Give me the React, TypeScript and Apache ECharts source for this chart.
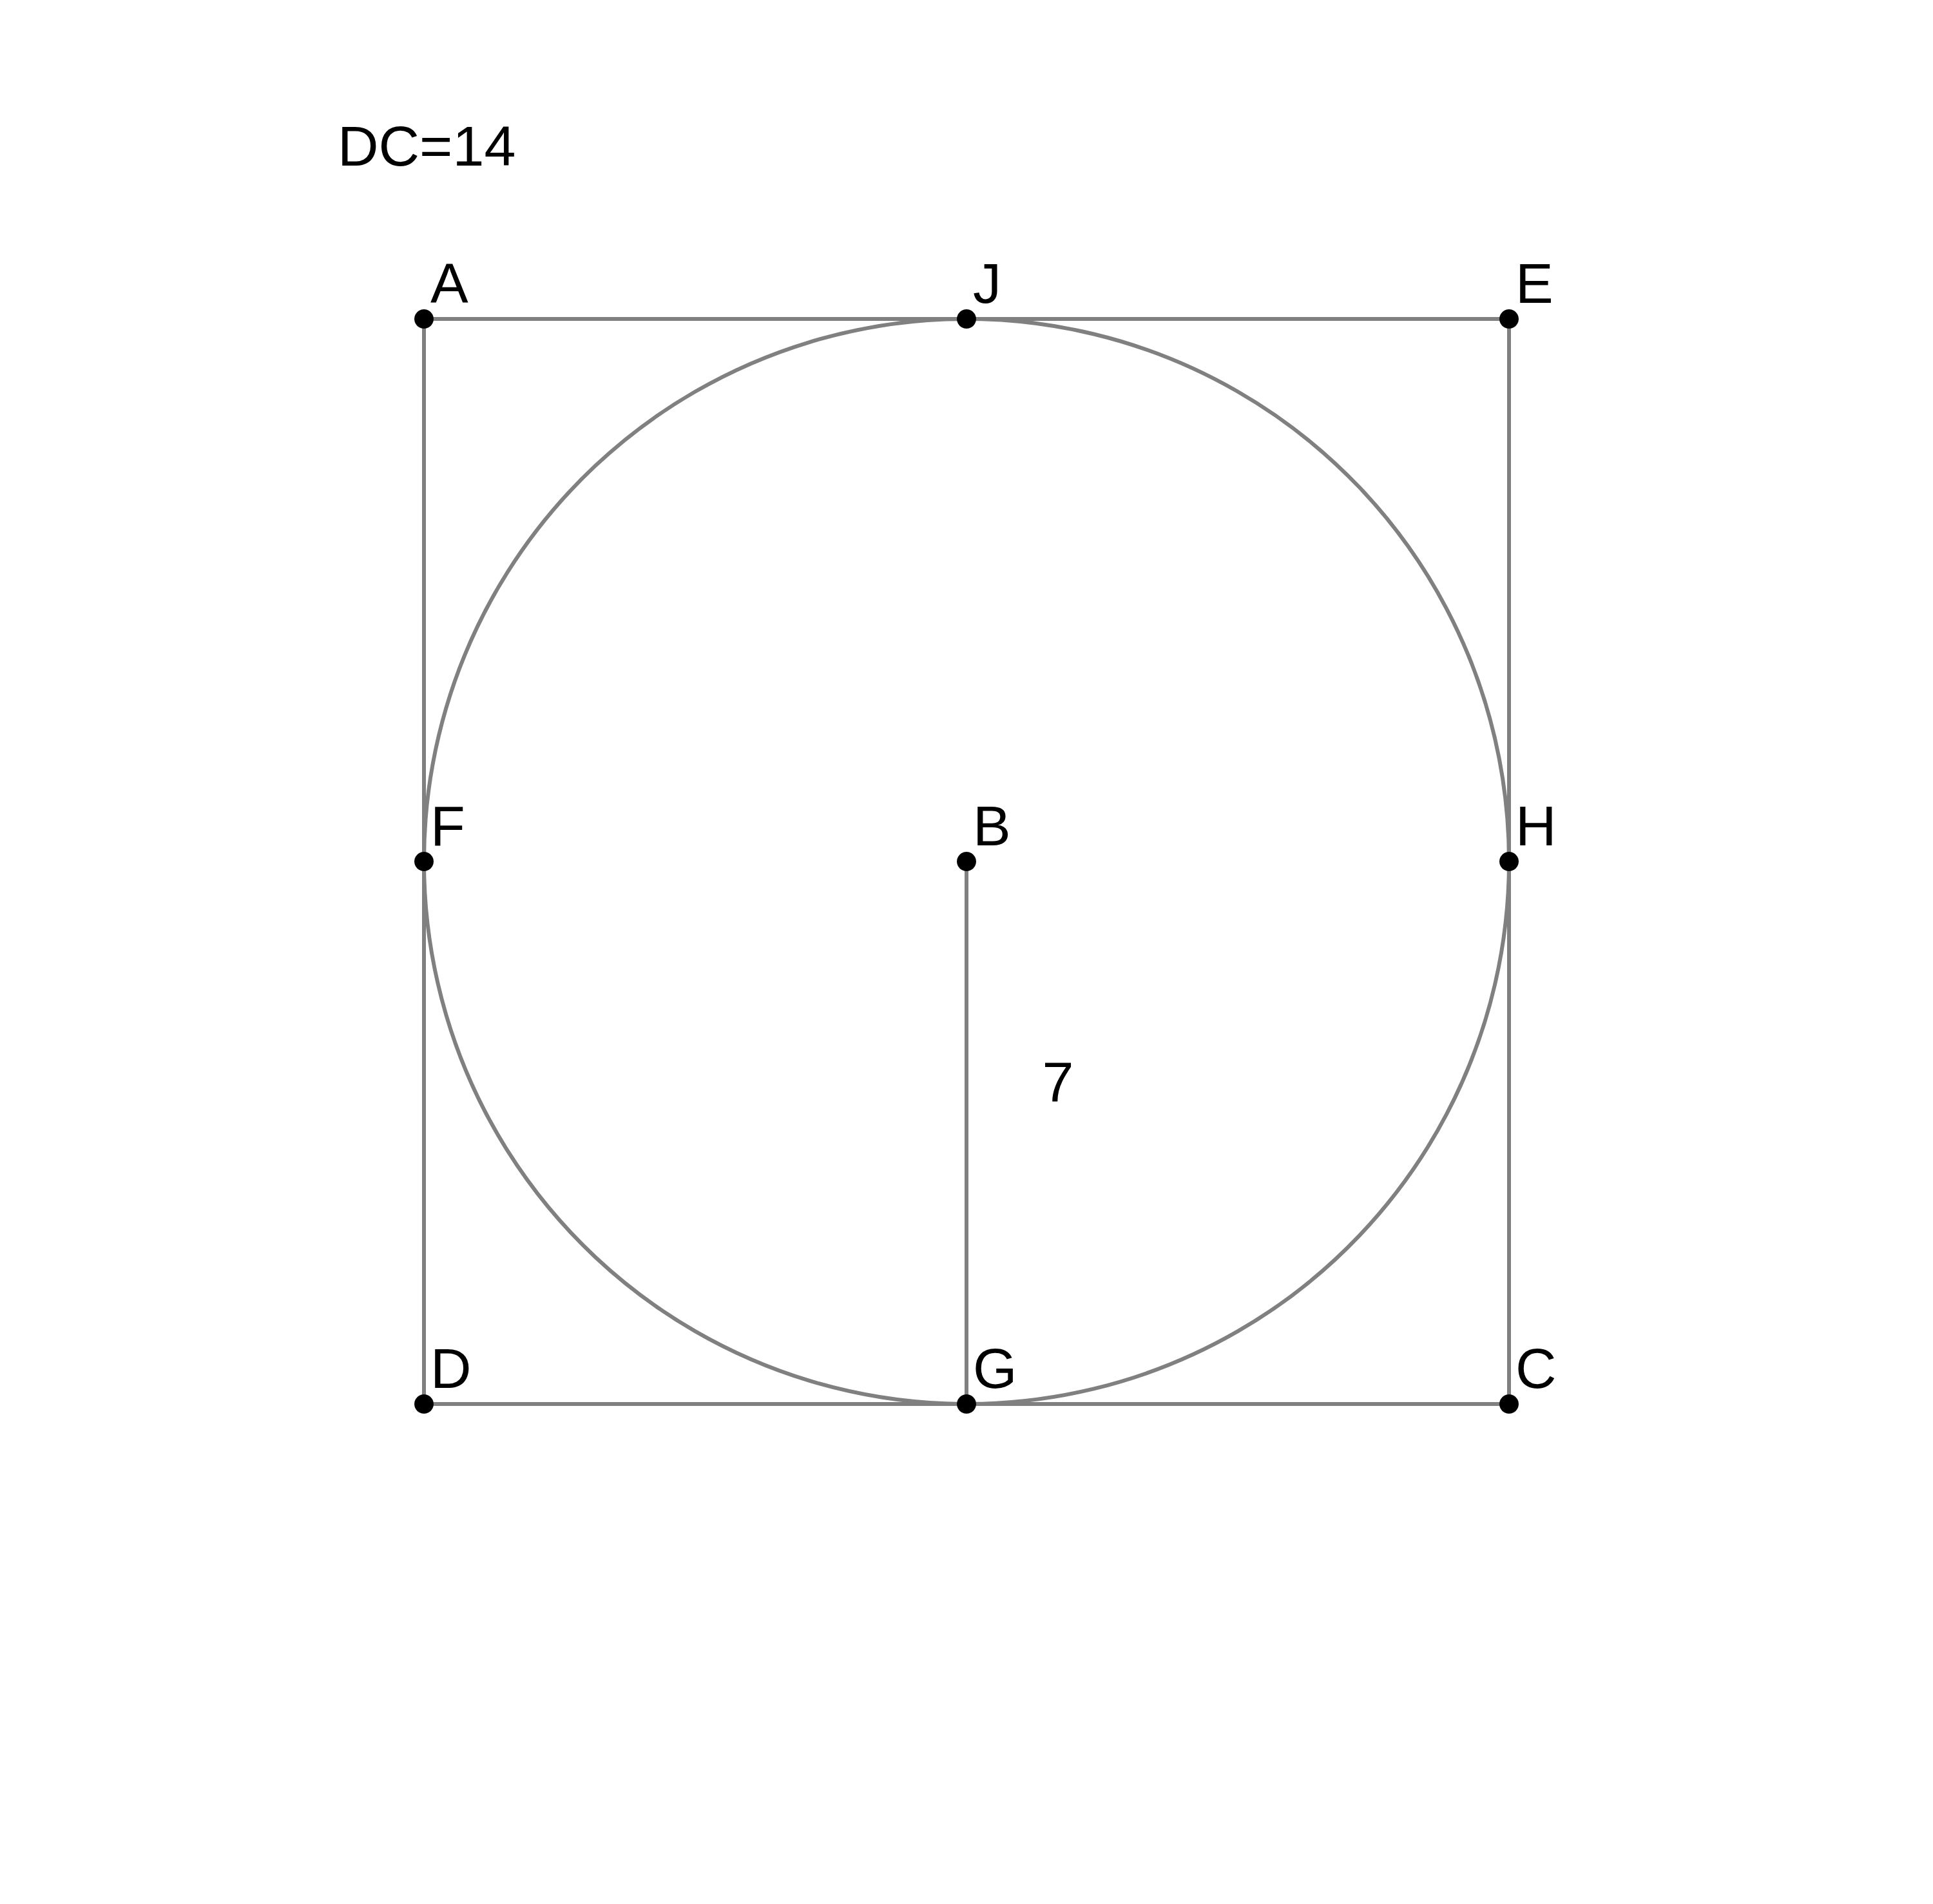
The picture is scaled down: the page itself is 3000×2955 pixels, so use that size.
import React, { useEffect, useRef } from 'react';
import * as echarts from 'echarts';

// square DC = 14, centre B, radius 7
const pointNames = ['A', 'J', 'E', 'F', 'B', 'H', 'D', 'G', 'C'];
const pointX = [0, 7, 14, 0, 7, 14, 0, 7, 14];
const pointY = [14, 14, 14, 7, 7, 7, 0, 0, 0];
const squarePath = ['A', 'E', 'C', 'D', 'A'];
const radiusSegment = ['B', 'G'];
const circleCenter = 'B';
const circleRadius = 7;
const segmentLabel = '7';
const segmentLabelAt = [8.18, 4.15];
const titleText = 'DC=14';

const FONT = '"Liberation Sans", Arial, Helvetica, sans-serif';
const GRAY = '#808080';
const STROKE = 6;

const pt = (name: string) => {
  const i = pointNames.indexOf(name);
  return [pointX[i], pointY[i]];
};

const App: React.FC = () => {
  const chartRef = useRef<HTMLDivElement>(null);

  useEffect(() => {
    if (!chartRef.current) return;
    const chart = echarts.init(chartRef.current, undefined, { renderer: 'svg' });

    const option: echarts.EChartsOption = {
      animation: false,
      backgroundColor: '#ffffff',
      grid: { left: 650, top: 487, width: 1684, height: 1684 },
      xAxis: { type: 'value', min: 0, max: 14, show: false },
      yAxis: { type: 'value', min: 0, max: 14, show: false },
      graphic: [{
        type: 'text',
        left: 516,
        top: 174,
        style: { text: titleText, font: `88px ${FONT}`, fill: '#000' },
      }],
      series: [
        {
          type: 'custom',
          renderItem: (params: any, api: any) => {
            const c = api.coord([api.value(0), api.value(1)]);
            const r = api.size([api.value(2), 0])[0];
            return {
              type: 'circle',
              shape: { cx: c[0], cy: c[1], r },
              style: { fill: 'none', stroke: GRAY, lineWidth: STROKE },
            };
          },
          data: [[...pt(circleCenter), circleRadius]],
          z: 1,
        },
        {
          type: 'line',
          data: squarePath.map(pt),
          symbol: 'none',
          lineStyle: { color: GRAY, width: STROKE },
          z: 2,
        },
        {
          type: 'line',
          data: radiusSegment.map(pt),
          symbol: 'none',
          lineStyle: { color: GRAY, width: STROKE },
          z: 2,
        },
        {
          type: 'scatter',
          data: pointNames.map((n, i) => ({ name: n, value: [pointX[i], pointY[i]] })),
          symbolSize: 30,
          itemStyle: { color: '#000', opacity: 1 },
          label: {
            show: true,
            formatter: '{b}',
            position: [25, -41],
            align: 'left',
            verticalAlign: 'middle',
            fontSize: 88,
            fontFamily: FONT,
            color: '#000',
          },
          z: 5,
        },
        {
          type: 'scatter',
          data: [{ name: segmentLabel, value: segmentLabelAt }],
          symbolSize: 0,
          itemStyle: { opacity: 1 },
          label: {
            show: true,
            formatter: '{b}',
            position: 'inside',
            fontSize: 88,
            fontFamily: FONT,
            color: '#000',
          },
          z: 5,
        },
      ],
    };

    chart.setOption(option);
    return () => chart.dispose();
  }, []);

  return <div ref={chartRef} style={{ width: 3000, height: 2955 }} />;
};

export default App;
